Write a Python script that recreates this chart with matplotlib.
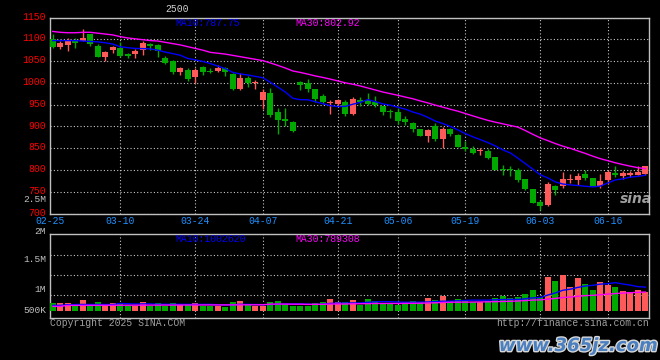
"""
sina style k-line chart, daily candles 02-25 .. 06-23
"""

import numpy as np
import pandas as pd
import matplotlib
matplotlib.use("Agg")
import matplotlib.pyplot as plt
import matplotlib.patheffects as pe
from matplotlib.transforms import ScaledTranslation


date_idx = [0, 9, 19, 28, 38, 46, 55, 65, 74]
date_labels = ['02-25', '03-10', '03-24', '04-07', '04-21', '05-06', '05-19', '06-03', '06-16']

opens = [1100, 1083, 1086, 1096, 1097, 1111, 1084, 1060, 1076, 1080,
         1066, 1066, 1076, 1089, 1087, 1058, 1050, 1026, 1030, 1014,
         1036, 1028, 1028, 1035, 1020, 986, 1011, 1000, 961, 977,
         933, 916, 910, 1001, 1000, 985, 970, 953, 952, 957,
         929, 961, 961, 956, 946, 935, 933, 917, 908, 893,
         878, 901, 872, 895, 880, 852, 849, 843, 843, 829,
         802, 801, 800, 779, 756, 727, 720, 762, 764, 778,
         777, 791, 781, 764, 777, 794, 787, 789, 789, 791]
highs = [1113, 1095, 1102, 1104, 1123, 1113, 1089, 1073, 1085, 1094,
         1068, 1077, 1096, 1092, 1089, 1062, 1052, 1037, 1033, 1034,
         1038, 1034, 1042, 1036, 1023, 1023, 1015, 1006, 986, 989,
         942, 942, 913, 1004, 1008, 985, 974, 960, 962, 960,
         967, 967, 976, 969, 947, 939, 942, 925, 910, 895,
         893, 907, 899, 897, 882, 867, 855, 850, 848, 830,
         811, 808, 804, 780, 757, 731, 773, 766, 796, 791,
         794, 800, 782, 791, 800, 808, 798, 798, 808, 809]
lows = [1080, 1078, 1074, 1081, 1095, 1085, 1059, 1049, 1068, 1059,
        1057, 1056, 1065, 1076, 1059, 1044, 1021, 1018, 1005, 999,
        1019, 1023, 1026, 1015, 984, 983, 991, 985, 939, 922,
        882, 902, 888, 983, 980, 955, 951, 928, 947, 923,
        927, 946, 950, 945, 927, 920, 905, 903, 887, 877,
        864, 866, 851, 878, 852, 844, 836, 834, 825, 800,
        789, 786, 773, 755, 724, 707, 718, 743, 758, 769,
        766, 777, 762, 758, 768, 783, 779, 783, 789, 789]
closes = [1082, 1092, 1095, 1092, 1102, 1090, 1060, 1071, 1083, 1061,
          1061, 1074, 1092, 1085, 1073, 1046, 1024, 1034, 1009, 1030,
          1025, 1024, 1035, 1026, 986, 1011, 1000, 1002, 978, 926,
          914, 912, 890, 994, 985, 964, 957, 955, 960, 928,
          964, 955, 952, 948, 933, 933, 912, 910, 895, 878,
          891, 870, 895, 882, 853, 848, 839, 845, 827, 801,
          800, 799, 777, 756, 725, 718, 768, 754, 779, 780,
          787, 781, 763, 775, 796, 788, 792, 794, 796, 808]

# volume in thousand shares
volume_k = [325, 325, 325, 212, 453, 212, 368, 212, 325, 311,
            212, 212, 368, 212, 311, 212, 311, 255, 269, 325,
            212, 212, 212, 156, 368, 410, 255, 212, 212, 368,
            410, 269, 212, 212, 212, 325, 368, 495, 368, 368,
            467, 255, 495, 410, 311, 283, 255, 368, 410, 368,
            538, 453, 637, 410, 495, 425, 368, 368, 396, 552,
            623, 538, 580, 722, 877, 566, 1429, 1274, 1514, 1005,
            1387, 1132, 877, 1217, 1075, 1005, 835, 807, 877, 792]

# moving averages before enough days are on the chart
ma10_head = [1097, 1097, 1097, 1097, 1096, 1095, 1094, 1092, 1089]
ma30_head = [1118, 1116, 1115, 1115, 1116, 1116, 1114, 1112, 1110, 1106,
             1103, 1101, 1099, 1097, 1096, 1093, 1090, 1087, 1083, 1079,
             1075, 1070, 1068, 1066, 1063, 1060, 1057, 1054, 1051]
vma10_head = [226, 226, 255, 262, 265, 265, 265, 265, 262]
vma30_head = [184, 184, 226, 226, 226, 228, 228, 230, 230, 232,
              232, 234, 234, 236, 236, 238, 238, 240, 240, 242,
              242, 244, 244, 246, 246, 248, 248, 250, 250]

RED = '#ff5a5a'
GREEN = '#00a800'
BLUE = '#0000ff'
MAG = '#ff00ff'
GRID = '#c8c8c8'
MONO = ['Liberation Mono', 'DejaVu Sans Mono']

o = np.array(opens, float)
h = np.array(highs, float)
l = np.array(lows, float)
c = np.array(closes, float)
vol = np.array(volume_k, float)
x = np.arange(len(c))
colors = np.where(c >= o, RED, GREEN)


def with_head(series, n, head):
    m = pd.Series(series).rolling(n).mean().to_numpy()
    m[:n - 1] = head
    return m


ma10 = with_head(c, 10, ma10_head)
ma30 = with_head(c, 30, ma30_head)
vma10 = with_head(vol, 10, vma10_head)
vma30 = with_head(vol, 30, vma30_head)

W, H = 660, 360
fig = plt.figure(figsize=(6.6, 3.6), dpi=100, facecolor='black')
ax = fig.add_axes([50 / W, 1 - 213.5 / H, 599 / W, 196 / H])
ax2 = fig.add_axes([50 / W, 1 - 318 / H, 599 / W, 84 / H])

x_left, x_right = -0.37, 79.48

for a in (ax, ax2):
    a.set_facecolor('black')
    a.set_xlim(x_left, x_right)
    for s in a.spines.values():
        s.set_color('#c0c0c0')
        s.set_linewidth(1)
    for i in date_idx[1:]:
        a.axvline(i, color=GRID, lw=0.8, ls=(0, (1, 2)), zorder=0)

# price panel
ax.set_ylim(700, 1150)
ax.set_yticks(np.arange(700, 1151, 50))
ax.set_yticklabels([str(v) for v in range(700, 1151, 50)], color='#ff0000',
                   family=MONO, fontsize=7)
ax.grid(axis='y', color=GRID, lw=0.8, ls=(0, (1, 2)), zorder=0)
ax.set_xticks([x_left] + date_idx[1:])
ax.set_xticklabels(date_labels, color='#1e90ff', family=MONO, fontsize=7)
ax.tick_params(axis='y', length=0, pad=3)
ax.tick_params(axis='x', length=0, pad=2)
# price labels sit a little above their grid lines
lift = ScaledTranslation(0, 1.8 / 100, fig.dpi_scale_trans)
for lab in ax.get_yticklabels():
    lab.set_transform(lab.get_transform() + lift)

ax.vlines(x, l, h, colors=colors, lw=1, zorder=2)
ax.bar(x, np.maximum(np.abs(c - o), 2.3), 0.8, bottom=np.minimum(o, c),
       color=colors, lw=0, zorder=3)
ax.plot(x, ma10, color=BLUE, lw=1, zorder=4)
ax.plot(x, ma30, color=MAG, lw=1, zorder=4)

# volume panel
ax2.set_ylim(-310, 3256)
ax2.set_xticks([])
ax2.set_yticks([])
for v in [666, 1515, 2364]:
    ax2.axhline(v, color=GRID, lw=0.8, ls=(0, (1, 2)), zorder=0)
ax2.bar(x, vol, 0.8, color=colors, lw=0, zorder=3)
ax2.plot(x, vma10, color=BLUE, lw=1, zorder=4)
ax2.plot(x, vma30, color=MAG, lw=1, zorder=4)

# texts
def ftext(px, py, s, **kw):
    kw.setdefault('family', MONO)
    kw.setdefault('fontsize', 7)
    kw.setdefault('va', 'center')
    fig.text(px / W, 1 - py / H, s, **kw)


ftext(177, 8.5, '2500', color='#d0d0d0', ha='center')
ftext(175, 23.5, 'MA10:787.75', color=BLUE)
ftext(295, 23.5, 'MA30:802.92', color=MAG)
ftext(175, 238.5, 'MA10:1002620', color=BLUE)
ftext(295, 238.5, 'MA30:789308', color=MAG)

for py, s in [(200, '2.5M'), (231.5, '2M'), (260, '1.5M'), (290, '1M'), (310.5, '500K')]:
    ftext(46, py, s, color='#c0c0c0', ha='right', fontsize=6.8)

ftext(50, 323, 'Copyright 2025 SINA.COM', color='#a0a0a0')
ftext(649, 323, 'http://finance.sina.com.cn', color='#a0a0a0', ha='right')

ftext(636, 199, 'sina', color='#c8c8c8', ha='center', family='DejaVu Sans',
      fontsize=10, weight='bold', style='italic', alpha=0.8)
ftext(578, 346, 'www.365jz.com', color='#4a7fc0', ha='center', family='DejaVu Sans',
      fontsize=13, weight='bold', style='italic',
      path_effects=[pe.withStroke(linewidth=2, foreground='#d8d8d8')])

fig.savefig('out.png', dpi=100, facecolor='black')
